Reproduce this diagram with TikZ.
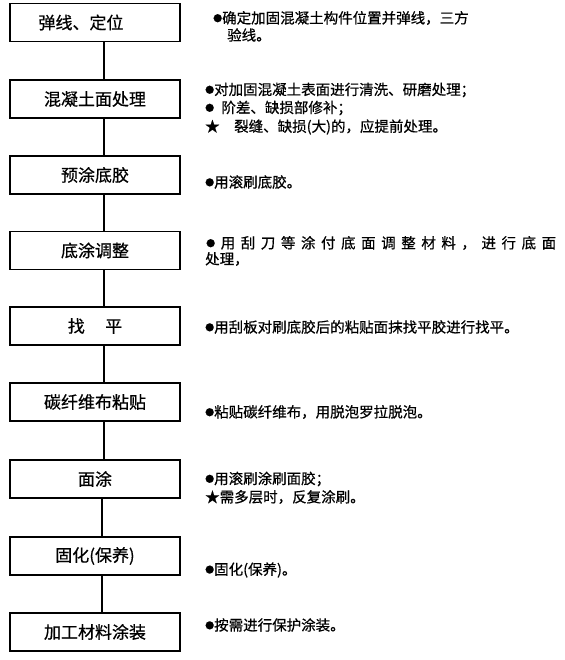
\documentclass[tikz,border=0pt]{standalone}
\usepackage{fontspec}
\usepackage{graphicx}
\setmainfont{Noto Sans CJK SC}
\newfontfamily\cjk[FakeBold=0.6]{Noto Sans CJK SC}
\newcommand{\dotb}{\raisebox{0.12em}{\scalebox{0.62}{●}}}
\begin{document}
\begin{tikzpicture}[x=1pt,y=-1pt,
  stepbox/.style={draw=black,line width=1.6pt,minimum width=170pt,minimum height=38pt,inner sep=0pt,font=\cjk\fontsize{17}{20}\selectfont},
  desc/.style={anchor=west,inner sep=0pt,font=\cjk\fontsize{14.5}{18}\selectfont},
  conn/.style={line width=1.6pt}]
\useasboundingbox (0,0) rectangle (564,660);
\fill[white] (0,0) rectangle (564,660);
% boxes
\node[stepbox] (b1) at (95,22.5) {\makebox[170pt]{\hspace{-28pt}\raisebox{-3pt}{弹线、定位}}};
\node[stepbox] (b2) at (95,99) {混凝土面处理};
\node[stepbox] (b3) at (95,175) {预涂底胶};
\node[stepbox] (b4) at (95,250.5) {底涂调整};
\node[stepbox] (b5) at (95,326) {找\hspace{1.2em}平};
\node[stepbox] (b6) at (95,402) {碳纤维布粘贴};
\node[stepbox] (b7) at (95,479) {面涂};
\node[stepbox] (b8) at (95,556) {固化(保养)};
\node[stepbox] (b9) at (95,632) {加工材料涂装};
% connector x positions
\coordinate (ca) at (104,0);
\coordinate (cb) at (102,0);
\draw[conn] (b1.south -| ca) -- (b2.north -| ca);
\draw[conn] (b2.south -| ca) -- (b3.north -| ca);
\draw[conn] (b3.south -| ca) -- (b4.north -| ca);
\draw[conn] (b4.south -| ca) -- (b5.north -| ca);
\draw[conn] (b5.south -| ca) -- (b6.north -| ca);
\draw[conn] (b6.south -| ca) -- (b7.north -| ca);
\draw[conn] (b7.south -| cb) -- (b8.north -| cb);
\draw[conn] (b8.south -| cb) -- (b9.north -| cb);
% descriptions
\node[desc] (t1a) at (213,18) {\dotb 确定加固混凝土构件位置并弹线，三方};
\node[desc] (t1b) at (227,35) {验线。};
\node[desc] (t2a) at (205,90) {\dotb 对加固混凝土表面进行清洗、研磨处理；};
\node[desc] (t2b) at (205,108) {\dotb\hspace{0.5em}阶差、缺损部修补；};
\node[desc] (t2c) at (205,127) {★\hspace{1em}裂缝、缺损(大)的，应提前处理。};
\node[desc] (t3) at (205,182) {\dotb 用滚刷底胶。};
\node[desc] (t4a) at (206,243) {\makebox[350pt][s]{\dotb\hfill 用\hfill 刮\hfill 刀\hfill 等\hfill 涂\hfill 付\hfill 底\hfill 面\hfill 调\hfill 整\hfill 材\hfill 料\hfill ，\hfill 进\hfill 行\hfill 底\hfill 面}};
\node[desc] (t4b) at (205,259) {处理，};
\node[desc] (t5) at (205,327) {\dotb 用刮板对刷底胶后的粘贴面抹找平胶进行找平。};
\node[desc] (t6) at (205,412) {\dotb 粘贴碳纤维布，用脱泡罗拉脱泡。};
\node[desc] (t7a) at (205,479) {\dotb 用滚刷涂刷面胶；};
\node[desc] (t7b) at (205,497) {★需多层时，反复涂刷。};
\node[desc] (t8) at (205,570) {\dotb 固化(保养)。};
\node[desc] (t9) at (205,625) {\dotb 按需进行保护涂装。};
\end{tikzpicture}
\end{document}
